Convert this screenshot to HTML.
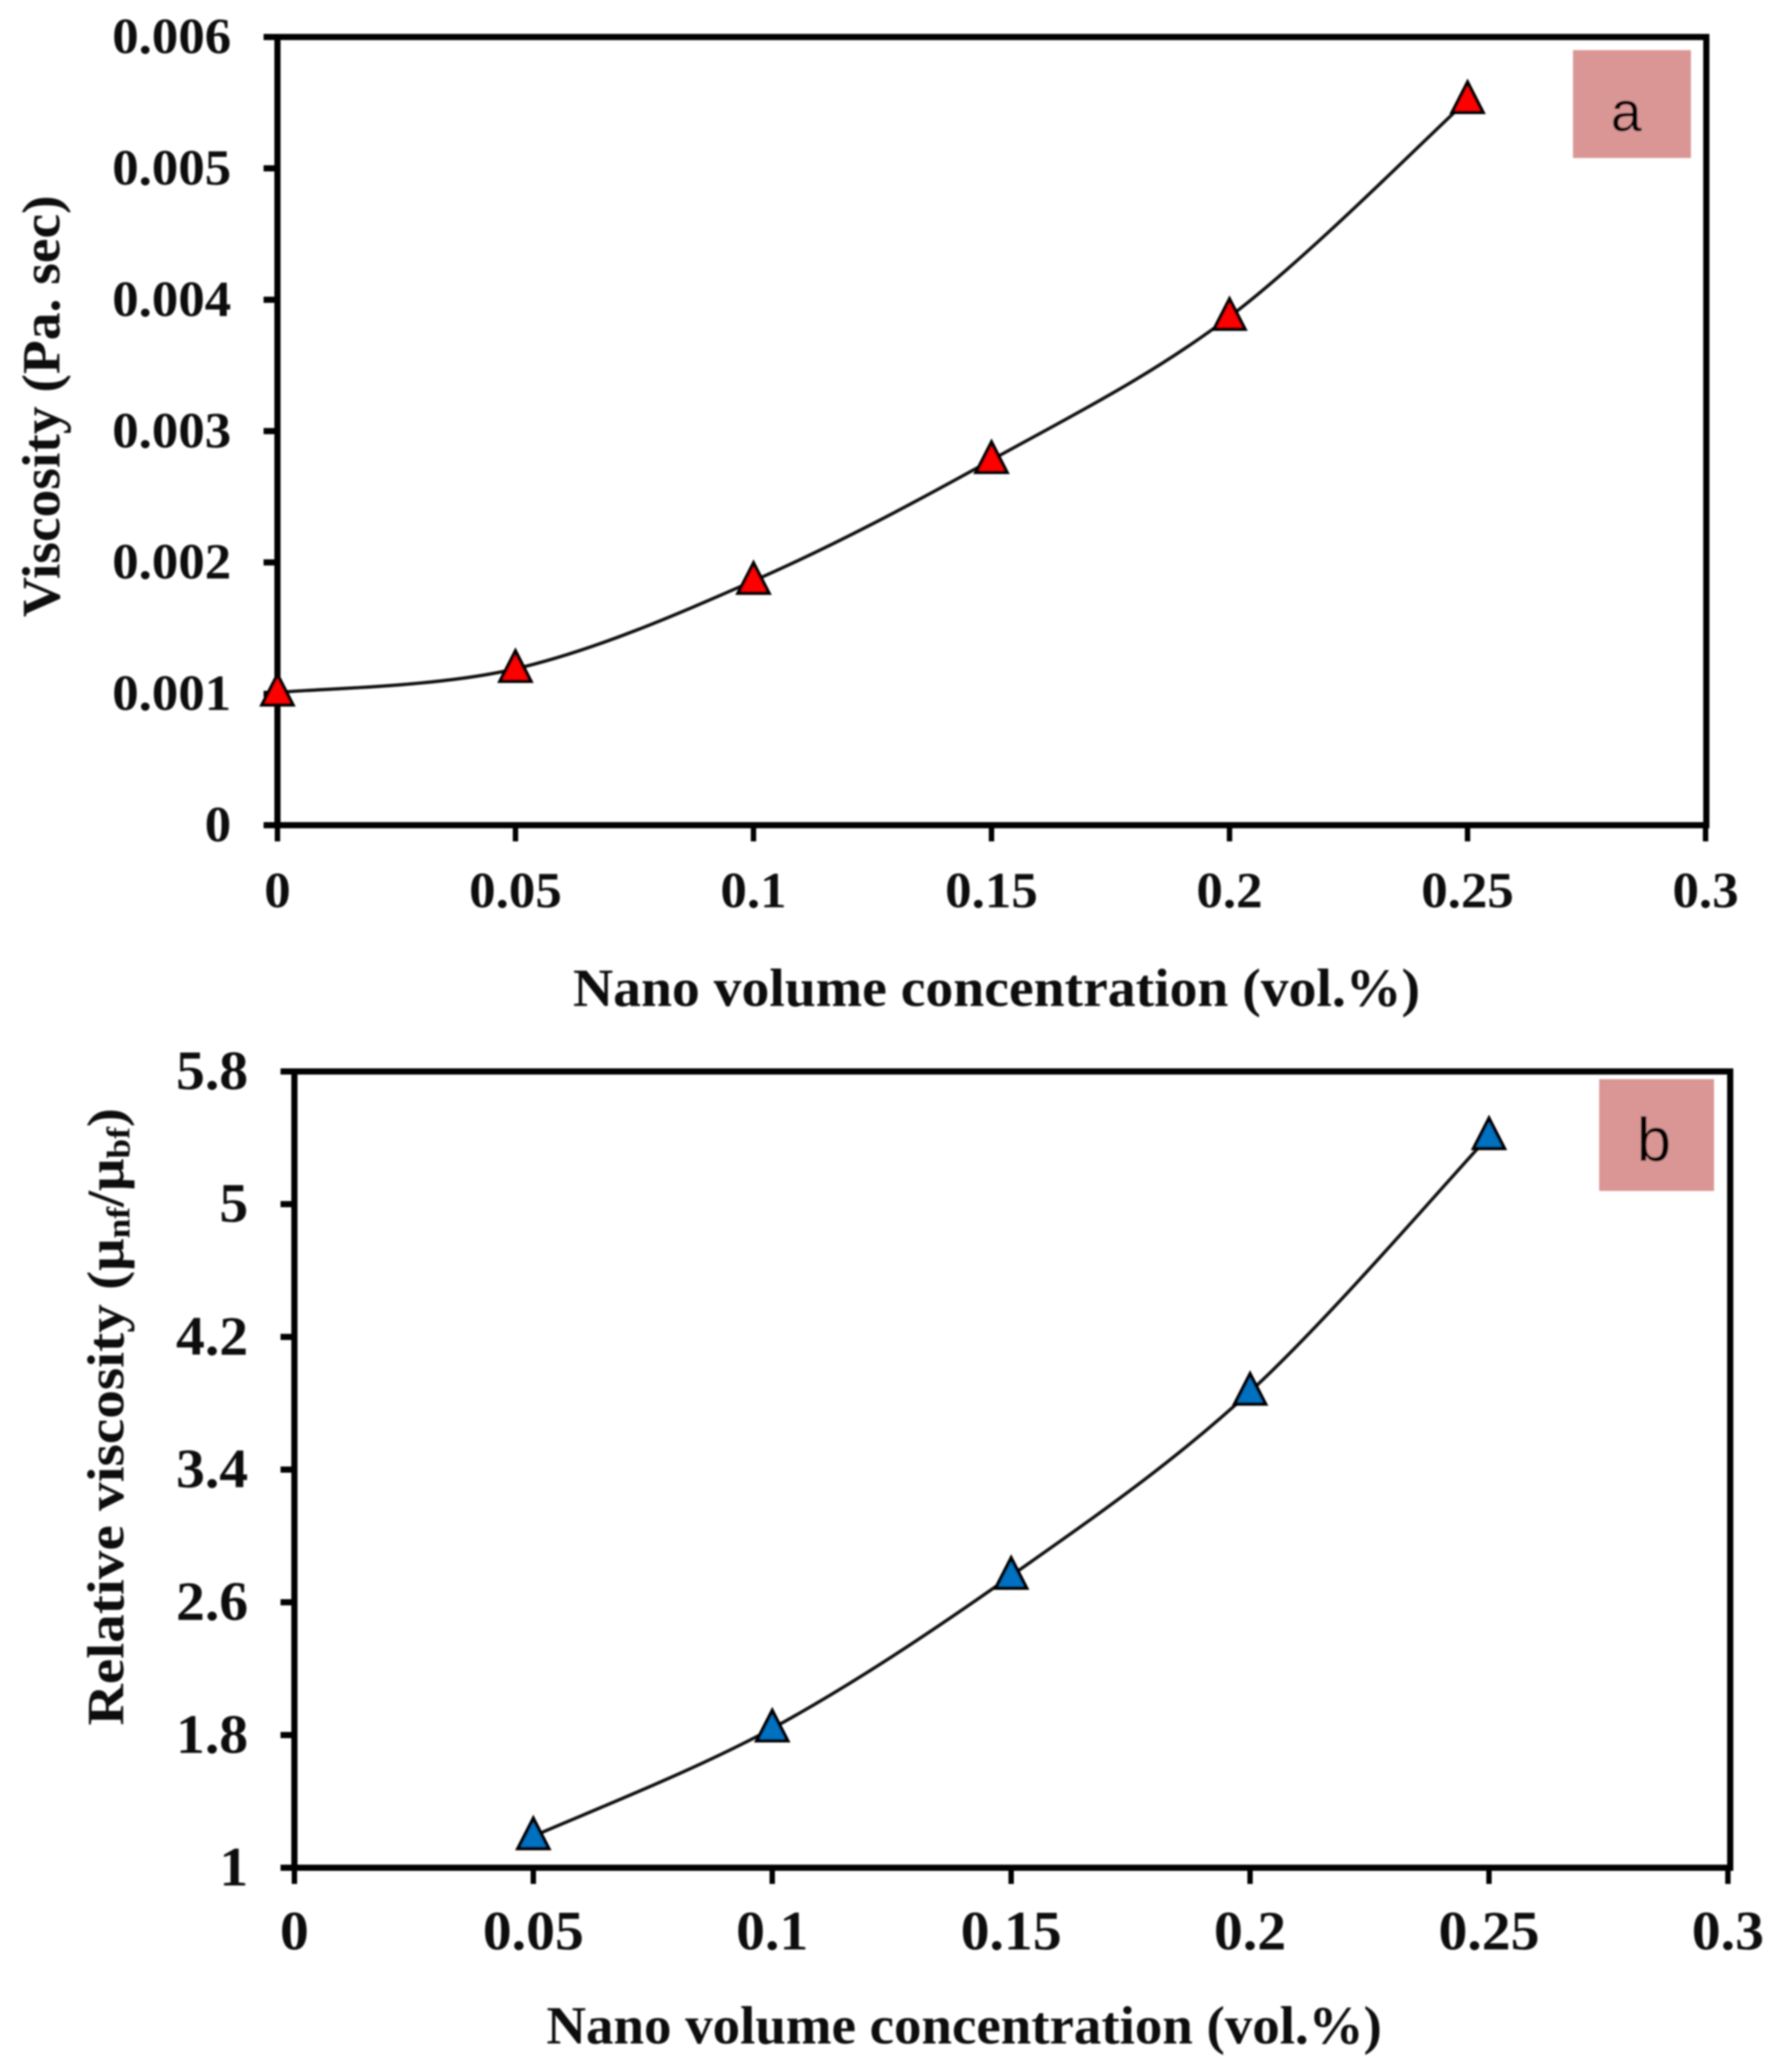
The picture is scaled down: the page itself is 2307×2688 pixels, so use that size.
<!DOCTYPE html>
<html lang="en">
<head>
<meta charset="utf-8">
<title>Viscosity vs nano volume concentration</title>
<style>
html,body{margin:0;padding:0;background:#fff;width:2307px;height:2688px;overflow:hidden}
svg{display:block}
text{font-family:"Liberation Serif","DejaVu Serif",serif;font-weight:bold;fill:#0c0c0c}
.panel-letter{font-family:"Liberation Sans",sans-serif;font-weight:normal;fill:#000}
</style>
</head>
<body>
<svg id="figure" xmlns="http://www.w3.org/2000/svg" width="2307" height="2688" viewBox="0 0 2307 2688">
  <defs>
    <filter id="soft" x="-5%" y="-5%" width="110%" height="110%"><feGaussianBlur stdDeviation="1"/></filter>
  </defs>
  <g id="root" filter="url(#soft)">
    <g id="chart-a">
      <rect x="2041" y="65" width="153" height="140" fill="#d99694"/>
      <text class="panel-letter" x="2110" y="170" font-size="72" text-anchor="middle">a</text>
      <text x="1293" y="1305" font-size="70" text-anchor="middle" textLength="1099" lengthAdjust="spacingAndGlyphs">Nano volume concentration (vol.%)</text>
      <text transform="translate(77 527) rotate(-90)" font-size="70" text-anchor="middle" textLength="547" lengthAdjust="spacingAndGlyphs">Viscosity (Pa. sec)</text>
    </g>
    <g id="chart-b">
      <rect x="2075" y="1400" width="149" height="145" fill="#d99694"/>
      <text class="panel-letter" x="2146" y="1506" font-size="80" text-anchor="middle">b</text>
      <text x="1251" y="2651" font-size="70" text-anchor="middle" textLength="1084" lengthAdjust="spacingAndGlyphs">Nano volume concentration (vol.%)</text>
      <text transform="translate(160 1838) rotate(-90)" font-size="68" text-anchor="middle" textLength="801" lengthAdjust="spacingAndGlyphs">Relative viscosity (μ<tspan font-size="42" dy="8">nf</tspan><tspan dy="-8">/μ</tspan><tspan font-size="42" dy="8">bf</tspan><tspan dy="-8">)</tspan></text>
    </g>
  </g>
</svg>
<script>
var xTickLabelsA = ['0', '0.05', '0.1', '0.15', '0.2', '0.25', '0.3'];
var yTickLabelsA = ['0', '0.001', '0.002', '0.003', '0.004', '0.005', '0.006'];
var concentrationA = [0, 0.05, 0.1, 0.15, 0.2, 0.25];
var viscosityA = [0.00101, 0.00119, 0.00186, 0.00278, 0.00387, 0.00552];

var xTickLabelsB = ['0', '0.05', '0.1', '0.15', '0.2', '0.25', '0.3'];
var yTickLabelsB = ['1', '1.8', '2.6', '3.4', '4.2', '5', '5.8'];
var concentrationB = [0.05, 0.1, 0.15, 0.2, 0.25];
var relativeViscosityB = [1.19, 1.84, 2.76, 3.87, 5.41];

var SVG_NS = 'http://www.w3.org/2000/svg';

function make(tag, attrs, parent) {
  var el = document.createElementNS(SVG_NS, tag);
  for (var k in attrs) el.setAttribute(k, attrs[k]);
  parent.appendChild(el);
  return el;
}

function stretchedLabel(el) {
  var w = el.getComputedTextLength();
  el.setAttribute('textLength', (w * 1.04).toFixed(1));
  el.setAttribute('lengthAdjust', 'spacingAndGlyphs');
}

function drawChart(cfg) {
  var g = cfg.group;
  function xScale(v) { return cfg.left + (v - cfg.xMin) / (cfg.xMax - cfg.xMin) * (cfg.xEnd - cfg.left); }
  function yScale(v) { return cfg.bottom - (v - cfg.yMin) / (cfg.yMax - cfg.yMin) * (cfg.bottom - cfg.top); }

  var frame = make('rect', { x: cfg.left, y: cfg.top, width: cfg.right - cfg.left, height: cfg.bottom - cfg.top, fill: 'none', stroke: '#000', 'stroke-width': 8 }, g);
  
  

  cfg.xLabels.forEach(function (label) {
    var v = parseFloat(label);
    var x = xScale(v);
    var tick = make('line', { x1: x, x2: x, y1: cfg.bottom, y2: cfg.bottom + 21, stroke: '#000', 'stroke-width': 7 }, g);
    
    
    var text = make('text', { x: x, y: cfg.xLabelY, 'font-size': cfg.fontSize, 'text-anchor': 'middle' }, g);
    text.textContent = label;
    
    
    stretchedLabel(text);
  });

  cfg.yLabels.forEach(function (label) {
    var v = parseFloat(label);
    var y = yScale(v);
    var tick = make('line', { x1: cfg.left - 18, x2: cfg.left, y1: y, y2: y, stroke: '#000', 'stroke-width': 8 }, g);
    
    
    var text = make('text', { x: cfg.yLabelX, y: y + cfg.yLabelShift, 'font-size': cfg.fontSize, 'text-anchor': 'end' }, g);
    text.textContent = label;
    
    
    stretchedLabel(text);
  });

  var pts = cfg.xs.map(function (v, i) { return [xScale(v), yScale(cfg.ys[i])]; });
  var d = 'M' + pts[0][0].toFixed(1) + ' ' + pts[0][1].toFixed(1);
  for (var i = 0; i < pts.length - 1; i++) {
    var p0 = pts[Math.max(i - 1, 0)], p1 = pts[i], p2 = pts[i + 1], p3 = pts[Math.min(i + 2, pts.length - 1)];
    var c1x = p1[0] + (p2[0] - p0[0]) / 6, c1y = p1[1] + (p2[1] - p0[1]) / 6;
    var c2x = p2[0] - (p3[0] - p1[0]) / 6, c2y = p2[1] - (p3[1] - p1[1]) / 6;
    d += ' C' + c1x.toFixed(1) + ' ' + c1y.toFixed(1) + ' ' + c2x.toFixed(1) + ' ' + c2y.toFixed(1) + ' ' + p2[0].toFixed(1) + ' ' + p2[1].toFixed(1);
  }
  var curve = make('path', { d: d, fill: 'none', stroke: '#0a0a0a', 'stroke-width': 4.2 }, g);
  
  

  pts.forEach(function (p) {
    var a = p[0].toFixed(1) + ',' + (p[1] - 23).toFixed(1);
    var b = (p[0] + 20).toFixed(1) + ',' + (p[1] + 16).toFixed(1);
    var c = (p[0] - 20).toFixed(1) + ',' + (p[1] + 16).toFixed(1);
    var marker = make('polygon', { points: a + ' ' + b + ' ' + c, fill: cfg.color, stroke: '#000', 'stroke-width': 4.5, 'stroke-miterlimit': 10 }, g);
    
    
  });
}

drawChart({
  group: document.getElementById('chart-a'),
  left: 360, right: 2214, xEnd: 2213, top: 48, bottom: 1070.5,
  xMin: 0, xMax: 0.3, yMin: 0, yMax: 0.006,
  xLabels: xTickLabelsA, yLabels: yTickLabelsA,
  xs: concentrationA, ys: viscosityA,
  fontSize: 66, xLabelY: 1177, yLabelX: 300, yLabelShift: 21,
  color: '#ff0000'
});

drawChart({
  group: document.getElementById('chart-b'),
  left: 382, right: 2245, xEnd: 2242, top: 1390, bottom: 2423,
  xMin: 0, xMax: 0.3, yMin: 1, yMax: 5.8,
  xLabels: xTickLabelsB, yLabels: yTickLabelsB,
  xs: concentrationB, ys: relativeViscosityB,
  fontSize: 72, xLabelY: 2529, yLabelX: 322, yLabelShift: 23,
  color: '#0070c0'
});
</script>
</body>
</html>
